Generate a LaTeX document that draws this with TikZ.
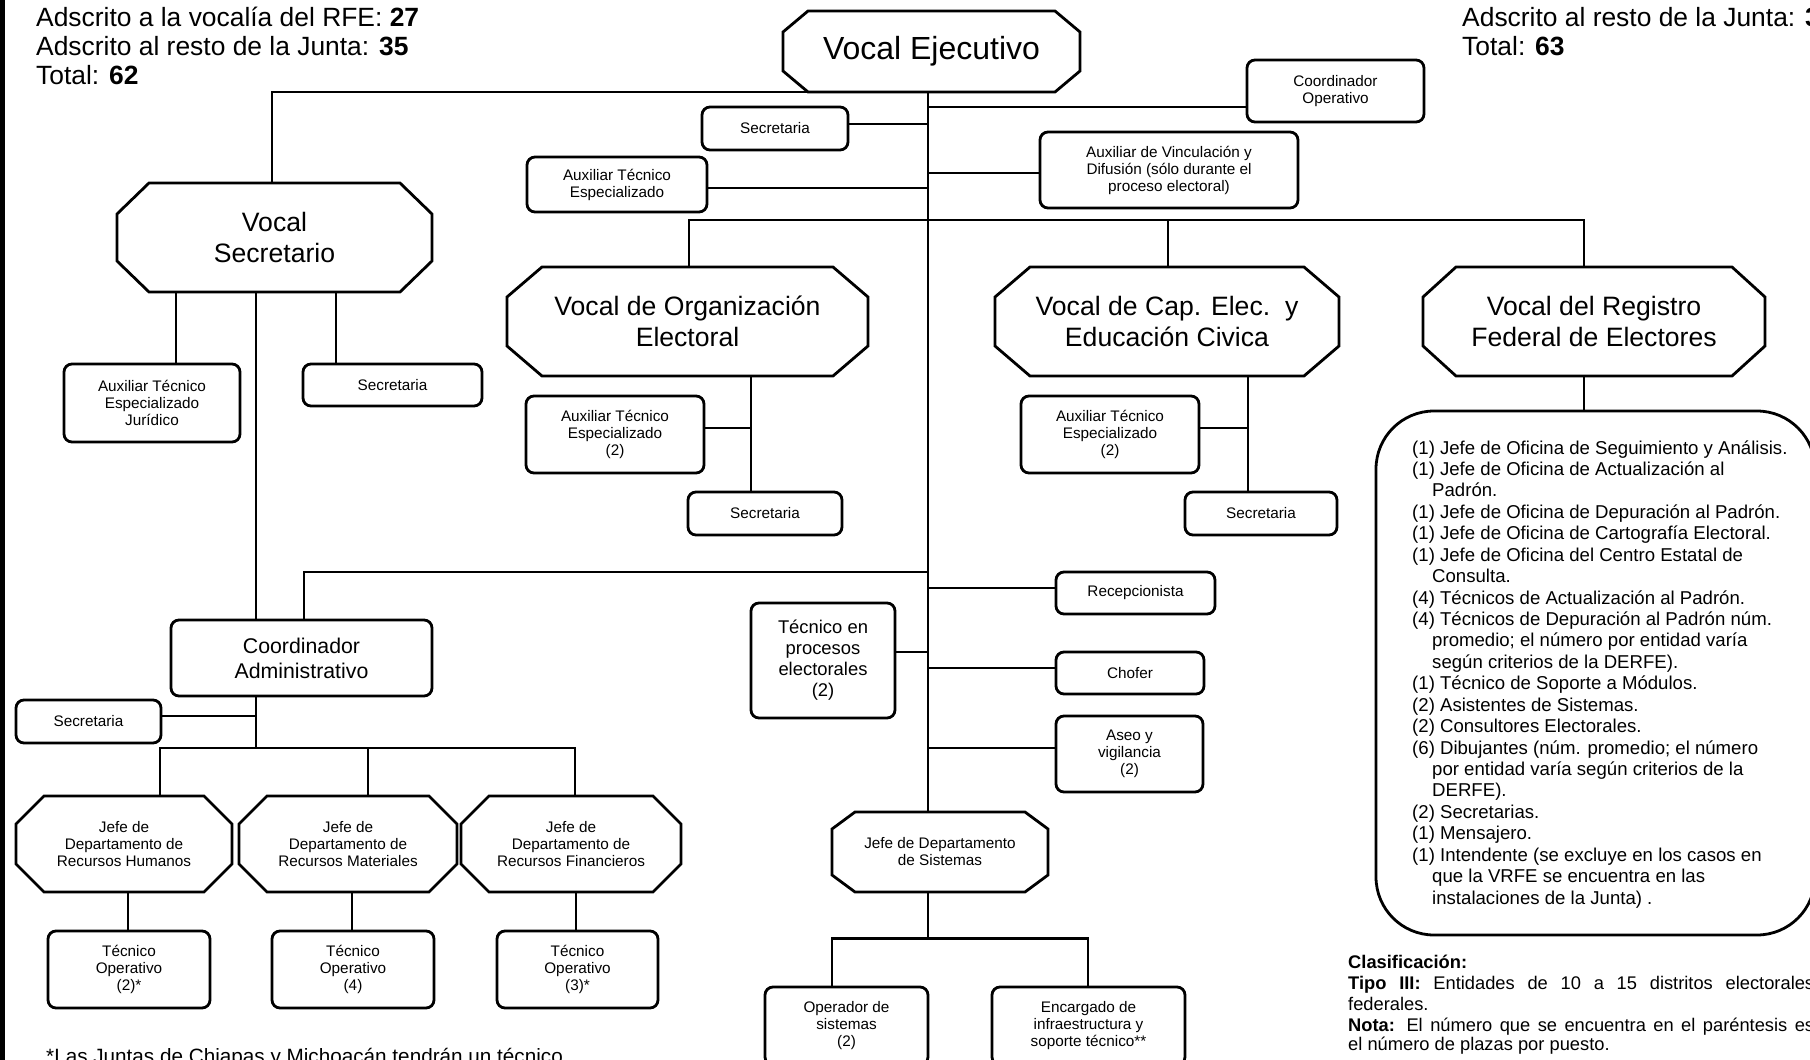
\documentclass[tikz,border=0pt]{standalone}
\usepackage{fontspec}
\setmainfont{Liberation Sans}
\usetikzlibrary{calc}
\newcommand{\fhead}{\fontsize{26.4}{28.5}\selectfont}
\newcommand{\fhuge}{\fontsize{32}{36}\selectfont}
\newcommand{\fbig}{\fontsize{26.6}{30.5}\selectfont}
\newcommand{\fmed}{\fontsize{21.3}{25}\selectfont}
\newcommand{\fproc}{\fontsize{18.4}{21}\selectfont}
\newcommand{\fsmall}{\fontsize{15.3}{17}\selectfont}
\newcommand{\flist}{\fontsize{18.6}{21.4}\selectfont}
\newcommand{\fnote}{\fontsize{18.3}{20.6}\selectfont}
\newcommand{\ffoot}{\fontsize{20.7}{24}\selectfont}
\newcommand{\chamferbox}[3]{%
  \draw[octline] ($(#1.north west)+(#2,0)$) -- ($(#1.north east)+(-#2,0)$)
    -- ($(#1.north east)+(0,#3)$) -- ($(#1.south east)+(0,-#3)$)
    -- ($(#1.south east)+(-#2,0)$) -- ($(#1.south west)+(#2,0)$)
    -- ($(#1.south west)+(0,-#3)$) -- ($(#1.north west)+(0,#3)$) -- cycle;}
\tikzset{
  box/.style={draw, line width=2.8pt, rounded corners=8pt, align=center, inner sep=0pt, font=\fsmall},
  octa/.style={inner sep=0pt, outer sep=0pt, align=center},
  octline/.style={line width=2.8pt},
  link/.style={line width=2.6pt},
  sublink/.style={line width=1.9pt},
  txt/.style={anchor=base west, inner sep=0pt},
}
\begin{document}
\begin{tikzpicture}[x=1pt,y=-1pt]
\useasboundingbox (0,0) rectangle (1810,1060);
\clip (0,0) rectangle (1810,1060);
\fill[white] (0,0) rectangle (1810,1060);
\fill[black] (0,0) rectangle (5,1060);

% encabezados
\node[txt, font=\fhead] (hdA) at (36,27) {Adscrito a la vocalía del RFE: \textbf{27}};
\node[txt, font=\fhead] (hdB) at (36,55.5) {Adscrito al resto de la Junta: \textbf{35}};
\node[txt, font=\fhead] (hdC) at (36,84) {Total: \textbf{62}};
\node[txt, font=\fhead] (hdD) at (1462,27) {Adscrito al resto de la Junta: \textbf{3}};
\node[txt, font=\fhead] (hdE) at (1462,55.5) {Total: \textbf{63}};

% vocalia ejecutiva
\node[octa, minimum width=297pt, minimum height=81pt, font=\fhuge] (VE) at (931.5,51.5) {Vocal Ejecutivo};
\chamferbox{VE}{25}{21}
\node[box, minimum width=177pt, minimum height=62pt] (CO) at (1335.5,91) {Coordinador\\Operativo};
\node[box, minimum width=146pt, minimum height=43pt] (SecVE) at (775,128.5) {Secretaria};
\node[box, minimum width=180pt, minimum height=55pt] (AuxVE) at (617,184.5) {Auxiliar Técnico\\Especializado};
\node[box, minimum width=258pt, minimum height=76pt] (AuxVin) at (1169,170) {Auxiliar de Vinculación y\\Difusión (sólo durante el\\proceso electoral)};

% vocales
\node[octa, minimum width=315pt, minimum height=109pt, font=\fbig] (VS) at (274.5,237.5) {Vocal\\Secretario};
\chamferbox{VS}{32}{31}
\node[octa, minimum width=361pt, minimum height=109pt, font=\fbig] (VOrg) at (687.5,321.5) {Vocal de Organización\\Electoral};
\chamferbox{VOrg}{35}{30}
\node[octa, minimum width=344pt, minimum height=109pt, font=\fbig] (VCap) at (1167,321.5) {Vocal de Cap. Elec.\ \ y\\Educación Civica};
\chamferbox{VCap}{35}{30}
\node[octa, minimum width=342pt, minimum height=109pt, font=\fbig] (VRFE) at (1594,321.5) {Vocal del Registro\\Federal de Electores};
\chamferbox{VRFE}{33}{30}

\node[box, minimum width=176pt, minimum height=78pt] (AuxJur) at (152,403) {Auxiliar Técnico\\Especializado\\Jurídico};
\node[box, minimum width=179pt, minimum height=42pt] (SecVS) at (392.5,385) {Secretaria};
\node[box, minimum width=178pt, minimum height=77pt] (AuxOrg) at (615,434.5) {Auxiliar Técnico\\Especializado\\(2)};
\node[box, minimum width=154pt, minimum height=43pt] (SecOrg) at (765,513.5) {Secretaria};
\node[box, minimum width=178pt, minimum height=77pt] (AuxCap) at (1110,434.5) {Auxiliar Técnico\\Especializado\\(2)};
\node[box, minimum width=152pt, minimum height=43pt] (SecCap) at (1261,513.5) {Secretaria};

% registro federal de electores
\node[draw, line width=2.8pt, rounded corners=58pt, minimum width=439pt, minimum height=524pt, inner sep=0pt] (RFElist) at (1595.5,673) {};
\foreach \ind/\txt [count=\i from 0] in {
  0/{(1) Jefe de Oficina de Seguimiento y Análisis.},
  0/{(1) Jefe de Oficina de Actualización al},
  1/{Padrón.},
  0/{(1) Jefe de Oficina de Depuración al Padrón.},
  0/{(1) Jefe de Oficina de Cartografía Electoral.},
  0/{(1) Jefe de Oficina del Centro Estatal de},
  1/{Consulta.},
  0/{(4) Técnicos de Actualización al Padrón.},
  0/{(4) Técnicos de Depuración al Padrón núm.},
  1/{promedio; el número por entidad varía},
  1/{según criterios de la DERFE).},
  0/{(1) Técnico de Soporte a Módulos.},
  0/{(2) Asistentes de Sistemas.},
  0/{(2) Consultores Electorales.},
  0/{(6) Dibujantes (núm. promedio; el número},
  1/{por entidad varía según criterios de la},
  1/{DERFE).},
  0/{(2) Secretarias.},
  0/{(1) Mensajero.},
  0/{(1) Intendente (se excluye en los casos en},
  1/{que la VRFE se encuentra en las},
  1/{instalaciones de la Junta) .}}
  \node[txt, font=\flist] (rfe\i) at (1412+20*\ind,454+21.43*\i) {\txt};

% administracion
\node[box, minimum width=261pt, minimum height=76pt, font=\fmed] (CA) at (301.5,658) {Coordinador\\Administrativo};
\node[box, minimum width=145pt, minimum height=43pt] (SecCA) at (88.5,721.5) {Secretaria};
\node[octa, minimum width=216pt, minimum height=96pt, font=\fsmall] (JRH) at (124,844) {Jefe de\\Departamento de\\Recursos Humanos};
\chamferbox{JRH}{28}{28}
\node[octa, minimum width=218pt, minimum height=96pt, font=\fsmall] (JRM) at (348,844) {Jefe de\\Departamento de\\Recursos Materiales};
\chamferbox{JRM}{28}{28}
\node[octa, minimum width=220pt, minimum height=96pt, font=\fsmall] (JRF) at (571,844) {Jefe de\\Departamento de\\Recursos Financieros};
\chamferbox{JRF}{28}{28}
\node[box, minimum width=162pt, minimum height=77pt] (TRH) at (129,969.5) {Técnico\\Operativo\\(2)*};
\node[box, minimum width=162pt, minimum height=77pt] (TRM) at (353,969.5) {Técnico\\Operativo\\(4)};
\node[box, minimum width=161pt, minimum height=77pt] (TRF) at (577.5,969.5) {Técnico\\Operativo\\(3)*};

% tronco central
\node[box, minimum width=144pt, minimum height=115pt, font=\fproc] (TecProc) at (823,660.5) {Técnico en\\procesos\\electorales\\(2)};
\node[box, minimum width=159pt, minimum height=42pt] (Recep) at (1135.5,593) {Recepcionista};
\node[box, minimum width=148pt, minimum height=42pt] (Chofer) at (1130,673) {Chofer};
\node[box, minimum width=147pt, minimum height=76pt] (Aseo) at (1129.5,754) {Aseo y\\vigilancia\\(2)};
\node[octa, minimum width=216pt, minimum height=80pt, font=\fsmall] (JSis) at (940,852) {Jefe de Departamento\\de Sistemas};
\chamferbox{JSis}{23}{17}
\node[box, minimum width=163pt, minimum height=78pt] (OpSis) at (846.5,1026) {Operador de\\sistemas\\(2)};
\node[box, minimum width=193pt, minimum height=78pt] (Enc) at (1088.5,1026) {Encargado de\\infraestructura y\\soporte técnico**};

% notas
\node[txt, font=\fnote] (clsA) at (1348,968) {\textbf{Clasificación:}};
\node[txt, font=\fnote] (clsB) at (1348,989) {\makebox[466pt][s]{\textbf{Tipo III:} Entidades de 10 a 15 distritos electorales}};
\node[txt, font=\fnote] (clsC) at (1348,1010) {federales.};
\node[txt, font=\fnote] (clsD) at (1348,1031) {\makebox[466pt][s]{\textbf{Nota:} El número que se encuentra en el paréntesis es}};
\node[txt, font=\fnote] (clsE) at (1348,1050) {el número de plazas por puesto.};
\node[txt, font=\ffoot] (foot) at (46,1063) {*Las Juntas de Chiapas y Michoacán tendrán un técnico};

% conexiones
\draw[link] (VE.south -| 928,0) -- (JSis.north -| 928,0);
\draw[link] (928,92) -| (VS.north -| 272,0);
\draw[link] (928,107) -- (CO.west |- 0,107);
\draw[sublink] (928,124) -- (SecVE.east |- 0,124);
\draw[sublink] (928,173) -- (AuxVin.west |- 0,173);
\draw[sublink] (928,188) -- (AuxVE.east |- 0,188);
\draw[link] (VOrg.north -| 689,0) -- ++(0,-47) -| (VRFE.north -| 1584,0);
\draw[link] (1168,220) -- (VCap.north -| 1168,0);

\draw[link] (VS.south -| 176,0) -- (AuxJur.north -| 176,0);
\draw[link] (VS.south -| 336,0) -- (SecVS.north -| 336,0);
\draw[link] (VS.south -| 256,0) -- (CA.north -| 256,0);
\draw[link] (928,572) -| (CA.north -| 304,0);
\draw[link] (CA.south -| 256,0) -- (256,748);
\draw[sublink] (256,716) -- (SecCA.east |- 0,716);
\draw[link] (JRH.north -| 160,0) -- (160,748) -| (JRF.north -| 575,0);
\draw[link] (368,748) -- (JRM.north -| 368,0);
\draw[link] (JRH.south -| 128,0) -- (TRH.north -| 128,0);
\draw[link] (JRM.south -| 352,0) -- (TRM.north -| 352,0);
\draw[link] (JRF.south -| 576,0) -- (TRF.north -| 576,0);

\draw[link] (VOrg.south -| 751,0) -- (SecOrg.north -| 751,0);
\draw[sublink] (AuxOrg.east |- 0,428) -- (751,428);
\draw[link] (VCap.south -| 1248,0) -- (SecCap.north -| 1248,0);
\draw[sublink] (AuxCap.east |- 0,428) -- (1248,428);
\draw[link] (VRFE.south -| 1584,0) -- (RFElist.north -| 1584,0);

\draw[sublink] (928,588) -- (Recep.west |- 0,588);
\draw[sublink] (928,652) -- (TecProc.east |- 0,652);
\draw[sublink] (928,668) -- (Chofer.west |- 0,668);
\draw[sublink] (928,748) -- (Aseo.west |- 0,748);
\draw[link] (JSis.south -| 928,0) -- (928,940);
\draw[link] (OpSis.north -| 832,0) -- ++(0,-47) -| (Enc.north -| 1088,0);
\end{tikzpicture}
\end{document}
